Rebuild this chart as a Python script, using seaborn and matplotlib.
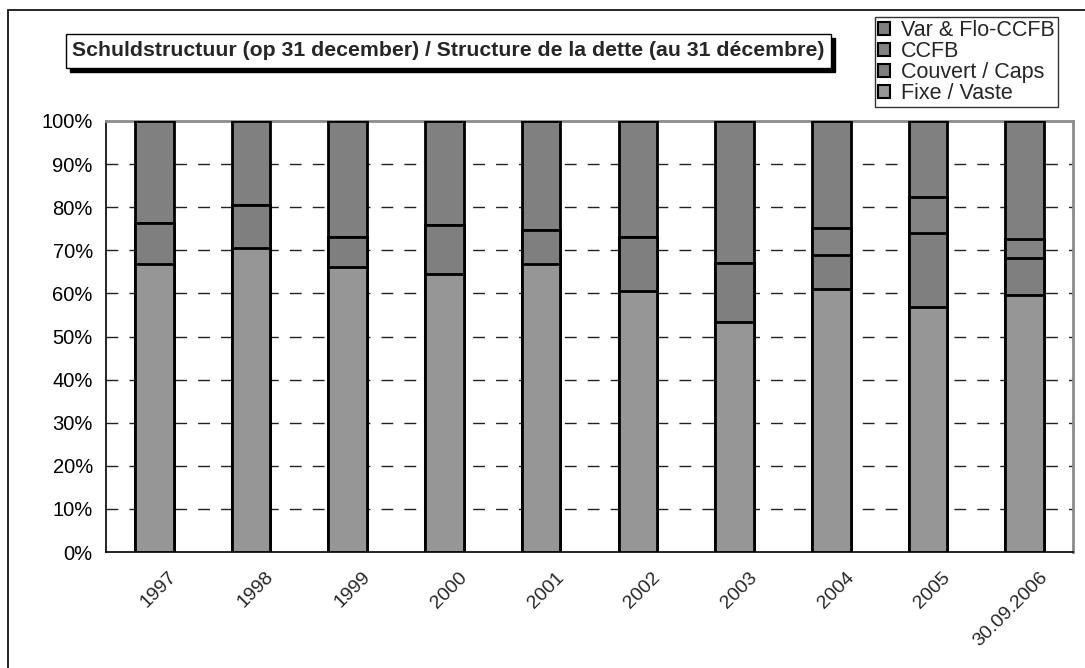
import numpy as np
import pandas as pd
import matplotlib.pyplot as plt
import matplotlib.transforms as mtransforms
from matplotlib.patches import Patch, Rectangle
import seaborn as sns

# data (share of debt, %)
years = ['1997', '1998', '1999', '2000', '2001', '2002', '2003', '2004', '2005', '30.09.2006']
fixe = [66.8, 70.6, 66.1, 64.4, 66.9, 60.5, 53.4, 61.0, 56.9, 59.6]
couvert = [9.5, 9.8, 7.0, 11.5, 7.7, 12.7, 13.6, 7.9, 17.0, 8.5]
ccfb = [0, 0, 0, 0, 0, 0, 0, 6.3, 8.4, 4.5]
var_flo = [23.7, 19.6, 26.9, 24.1, 25.4, 26.8, 33.0, 24.8, 17.7, 27.4]

labels = ['Var & Flo-CCFB', 'CCFB', 'Couvert / Caps', 'Fixe / Vaste']
colors = ['#808080', '#838383', '#7f7f7f', '#969696']

df = pd.DataFrame({'Year': years, 'Fixe': fixe, 'Couvert': couvert,
                   'CCFB': ccfb, 'Var': var_flo})
df['c1'] = df['Fixe']
df['c2'] = df['c1'] + df['Couvert']
df['c3'] = df['c2'] + df['CCFB']
df['c4'] = df['c3'] + df['Var']

sns.set_style("white")
plt.rcParams['font.family'] = ['Liberation Sans', 'DejaVu Sans']

W, H = 1085, 668
fig = plt.figure(figsize=(W / 100, H / 100), dpi=100)
ax = fig.add_axes([106 / W, 1 - 552 / H, (1073 - 106) / W, (552 - 121) / H])

# stacked bars drawn as overlapping cumulative bars
for col, c in zip(['c4', 'c3', 'c2', 'c1'], colors):
    sns.barplot(x='Year', y=col, data=df, order=years, color=c, width=0.4,
                edgecolor='black', linewidth=2, saturation=1, ax=ax, zorder=3)

ax.set_xlim(-0.5, len(years) - 0.5)
ax.set_ylim(0, 100)
ax.set_yticks(np.arange(0, 101, 10))
ax.set_yticklabels([f'{v}%' for v in range(0, 101, 10)], fontsize=14.5)
ax.set_xlabel('')
ax.set_ylabel('')

# dashed gridlines
for v in range(10, 100, 10):
    ax.axhline(v, color='#222222', lw=1.0, linestyle=(0, (8.5, 8)), zorder=1)

ax.tick_params(axis='y', direction='inout', length=9, width=1, pad=5, colors='black')
ax.set_xticks(range(len(years)))
ax.set_xticklabels(years, rotation=45, ha='right', rotation_mode='anchor', fontsize=14)
ax.tick_params(axis='x', which='major', length=0, pad=12)
ax.set_xticks(np.arange(-0.5, len(years), 1), minor=True)
ax.tick_params(axis='x', which='minor', length=7, width=1, direction='out', color='black')
offset = mtransforms.ScaledTranslation(14 / 100, 0, fig.dpi_scale_trans)
for lab in ax.get_xticklabels():
    lab.set_transform(lab.get_transform() + offset)

for s in ['left', 'bottom']:
    ax.spines[s].set_color('black')
    ax.spines[s].set_linewidth(1.2)
for s in ['top', 'right']:
    ax.spines[s].set_color('#8c8c8c')
    ax.spines[s].set_linewidth(2)

# outer chart border
fig.patches.append(Rectangle((8 / W, -0.1), 1.2, 1 - 10 / H + 0.1, transform=fig.transFigure,
                             fill=False, edgecolor='black', lw=1.2))

# title box with shadow
x0, y0, x1, y1 = 66, 34, 831, 68
fig.patches.append(Rectangle(((x0 + 4) / W, 1 - (y1 + 4) / H), (x1 - x0) / W, (y1 - y0) / H,
                             transform=fig.transFigure, facecolor='black', edgecolor='black'))
fig.patches.append(Rectangle((x0 / W, 1 - y1 / H), (x1 - x0) / W, (y1 - y0) / H,
                             transform=fig.transFigure, facecolor='white', edgecolor='black', lw=1))
fig.text((x0 + x1) / 2 / W, 1 - (y0 + y1) / 2 / H,
         'Schuldstructuur (op 31 december) / Structure de la dette (au 31 décembre)',
         ha='center', va='center', fontsize=15.3, fontweight='bold')

handles = [Patch(facecolor=c, edgecolor='black', lw=1.5) for c in colors]
leg = fig.legend(handles, labels, loc='upper left', bbox_to_anchor=(875 / W, 1 - 17 / H),
                 fontsize=15.5, frameon=True, fancybox=False, borderpad=0.15,
                 labelspacing=0.0, handlelength=0.55, handleheight=0.55,
                 handletextpad=0.5, borderaxespad=0)
leg.get_frame().set_edgecolor('black')
leg.get_frame().set_linewidth(1)

fig.savefig('out.png', dpi=100)
